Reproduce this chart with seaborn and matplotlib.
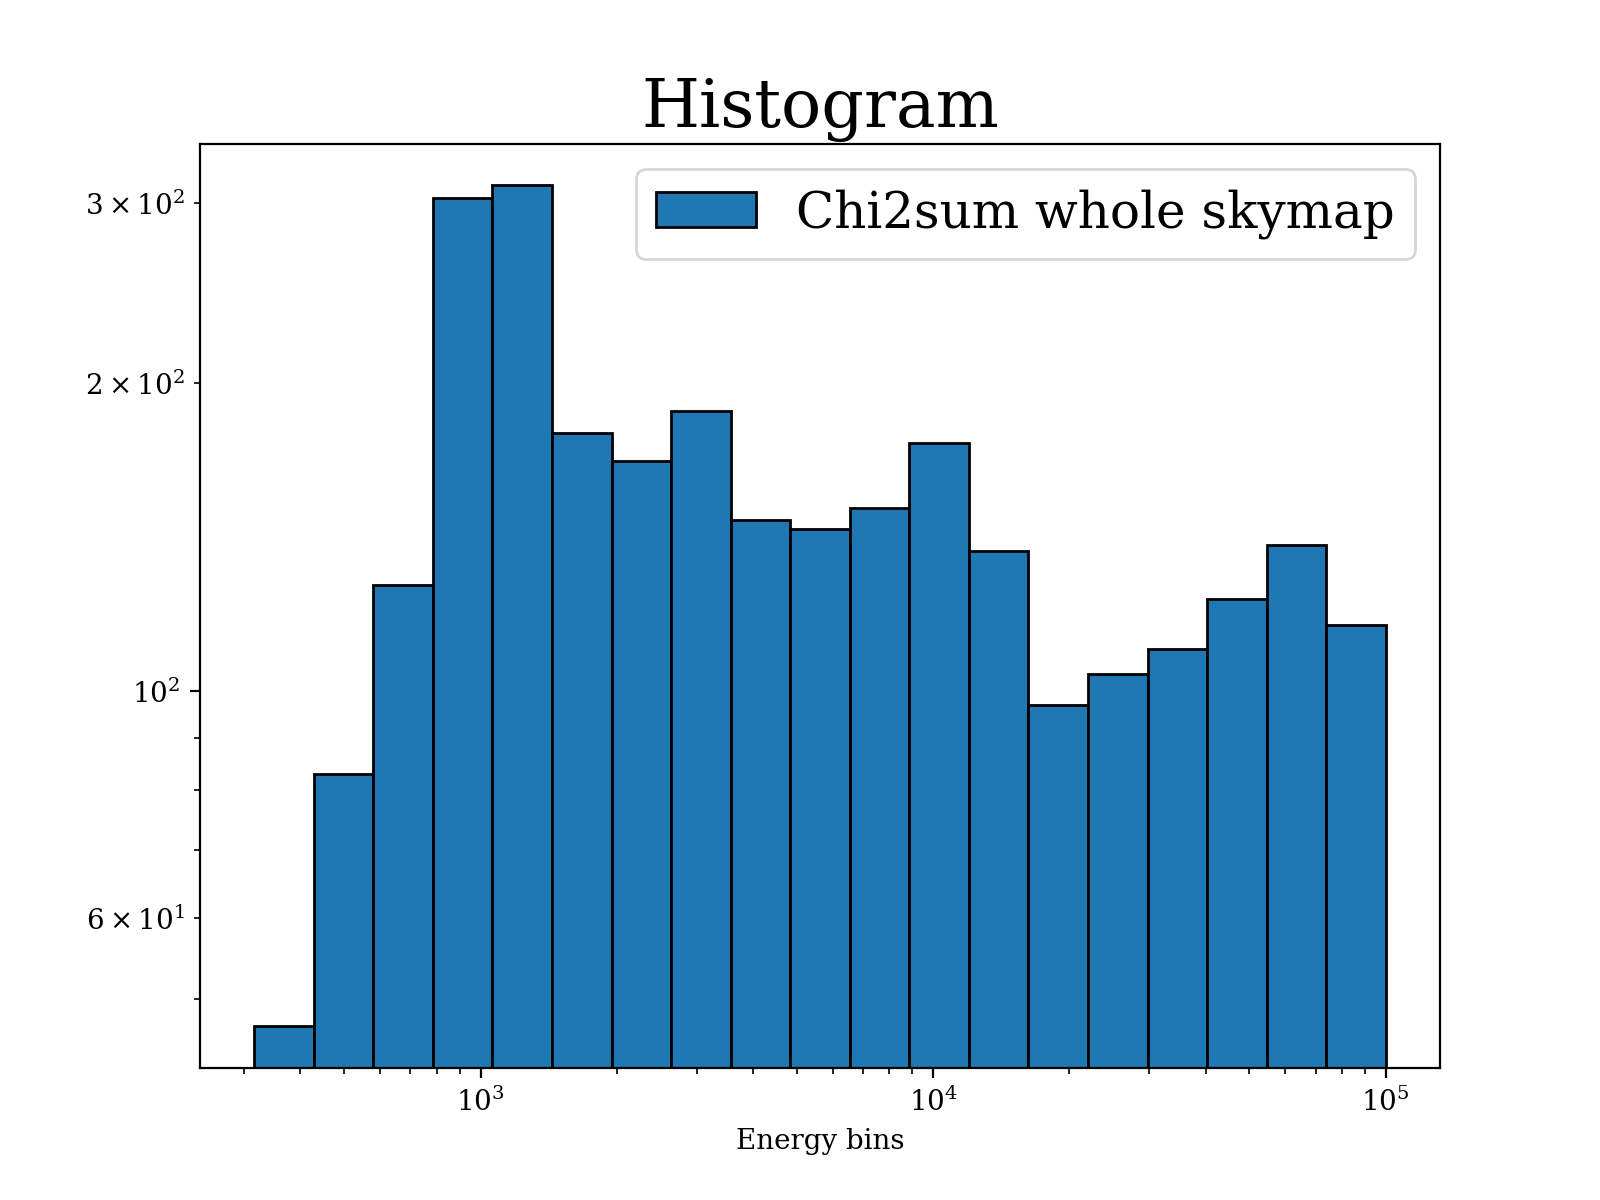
import numpy as np
import pandas as pd
import matplotlib
matplotlib.use("Agg")
import matplotlib.pyplot as plt
import seaborn as sns

log_edges = np.linspace(2.5, 5, 20)
counts = [47, 83, 127, 304, 313, 179, 168, 188, 147, 144, 151, 175, 137, 97, 104, 110, 123, 139, 116]

plt.rcParams['font.family'] = ['DejaVu Serif']
fig, ax = plt.subplots(figsize=(8, 6), dpi=200)
centers = 10 ** ((log_edges[:-1] + log_edges[1:]) / 2)
df = pd.DataFrame({"x": centers, "w": counts})
sns.histplot(data=df, x="x", weights="w", bins=19, binrange=(2.5, 5), log_scale=True,
             ax=ax, color="#1f77b4", alpha=1, edgecolor="black", linewidth=1,
             label="Chi2sum whole skymap")
ax.set_yscale("log")
ax.set_ylim(42.8, 343)
ax.set_xlim(10**2.38, 10**5.12)
ax.set_ylabel("")
ax.set_xlabel("Energy bins")
ax.set_title("Histogram", fontsize=24)
ax.legend(fontsize=18, loc="upper right")
fig.savefig("out.png")
